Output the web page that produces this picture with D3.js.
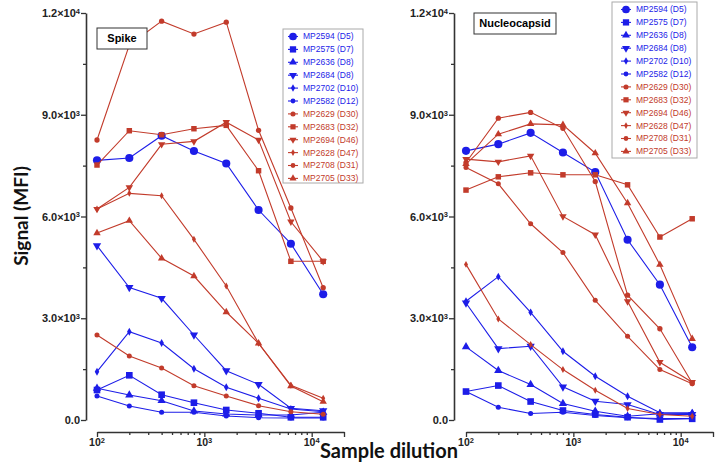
<!DOCTYPE html>
<html><head><meta charset="utf-8">
<script src="https://cdn.jsdelivr.net/npm/d3@7"></script>
<style>body{margin:0;background:#fff}</style>
</head><body><svg id="c" width="716" height="466"></svg>
<script>
const dilutions = [100, 200, 400, 800, 1600, 3200, 6400, 12800];
const seriesNames = ["MP2594 (D5)", "MP2575 (D7)", "MP2636 (D8)", "MP2684 (D8)", "MP2702 (D10)", "MP2582 (D12)",
  "MP2629 (D30)", "MP2683 (D32)", "MP2694 (D46)", "MP2628 (D47)", "MP2708 (D31)", "MP2705 (D33)"];
const spikeValues = [
  [7656, 7724, 8381, 7930, 7562, 6191, 5198, 3706],
  [884, 1318, 746, 510, 295, 198, 80, 80],
  [935, 737, 569, 265, 177, 147, 147, 227],
  [5139, 3906, 3588, 2506, 1453, 1052, 345, 274],
  [1424, 2603, 2270, 1512, 964, 640, 324, 245],
  [708, 413, 227, 227, 118, 68, 59, 59],
  [8255, 11055, 11760, 11380, 11730, 8541, 6250, 3900],
  [7518, 8529, 8411, 8588, 8688, 7350, 4679, 4679],
  [6220, 6860, 8128, 8216, 8779, 8255, 5846, 4679],
  [6220, 6683, 6613, 5327, 3950, 2261, 1023, 640],
  [2506, 1887, 1533, 1011, 708, 422, 245, 168],
  [5513, 5876, 4767, 4245, 3184, 2261, 1002, 540]
];
const nucleocapsidValues = [
  [7936, 8133, 8466, 7886, 7309, 5315, 3990, 2144],
  [839, 1016, 545, 280, 162, 82, 15, 35],
  [2156, 1458, 1045, 486, 259, 112, 183, 191],
  [3450, 2105, 2174, 978, 554, 456, 162, 162],
  [3500, 4226, 3174, 2026, 1290, 701, 212, 212],
  [839, 377, 191, 230, 133, 65, 44, 44],
  [7591, 8900, 9070, 8600, 7030, 3680, 2690, 1090],
  [6779, 7170, 7288, 7229, 7229, 6934, 5395, 5933],
  [7691, 7612, 7788, 6001, 5462, 3498, 1702, 1113],
  [4588, 2980, 2223, 1487, 875, 339, 162, 112],
  [7444, 6964, 5786, 4938, 3528, 2467, 1487, 1066],
  [7553, 8427, 8731, 8701, 7866, 6393, 4579, 2391]
];
const yTickValues = [0, 3000, 6000, 9000, 12000];
const yMinorTicks = [1500, 4500, 7500, 10500];
const yTickLabels = [["0.0", ""], ["3.0×10", "3"], ["6.0×10", "3"], ["9.0×10", "3"], ["1.2×10", "4"]];
const xTickValues = [100, 1000, 10000];
const xTickLabels = [["10", "2"], ["10", "3"], ["10", "4"]];
const panelTitles = ["Spike", "Nucleocapsid"];
const yAxisTitle = "Signal (MFI)";
const xAxisTitle = "Sample dilution";

// ---- styling / layout (kept out of data) ----
const BLUE = "#1d1de8", RED = "#c23b2b";
const triDown = { draw(ctx, size) { const s = Math.sqrt(size / 0.433) ; const h = s * 0.866;
  ctx.moveTo(-s/2, -h/3); ctx.lineTo(s/2, -h/3); ctx.lineTo(0, 2*h/3); ctx.closePath(); } };
const triUp = { draw(ctx, size) { const s = Math.sqrt(size / 0.433) ; const h = s * 0.866;
  ctx.moveTo(-s/2, h/3); ctx.lineTo(s/2, h/3); ctx.lineTo(0, -2*h/3); ctx.closePath(); } };
const styleOf = i => {
  const blue = i < 6;
  const types = [d3.symbolCircle, d3.symbolSquare, triUp, triDown, d3.symbolDiamond, d3.symbolCircle,
                 d3.symbolCircle, d3.symbolSquare, triDown, d3.symbolDiamond, d3.symbolCircle, triUp];
  const sizes = [52, 44, 30, 30, 18, 20, 22, 30, 24, 14, 20, 24];
  return { color: blue ? BLUE : RED, type: types[i], size: sizes[i] };
};

const svg = d3.select("#c");
svg.append("rect").attr("width", 716).attr("height", 466).attr("fill", "#fff");

const panels = [
  { yAxisX: 86, xRange: [97, 344], yRange: [420, 13], xAxisY: 432,
    title: { x: 97, y: 28, w: 50, h: 21 },
    legend: { x: 283, y: 29, w: 80, h: 154, lx: 288, tx: 303 } },
  { yAxisX: 454, xRange: [466, 713], yRange: [420, 13], xAxisY: 432,
    title: { x: 474, y: 13, w: 82, h: 21 },
    legend: { x: 612, y: 2, w: 85, h: 156, lx: 621, tx: 636 } }
];
const panelValues = [spikeValues, nucleocapsidValues];

const AX = "#333";
panels.forEach((p, pi) => {
  const x = d3.scaleLog().domain([100, 20000]).range(p.xRange);
  const y = d3.scaleLinear().domain([0, 12000]).range(p.yRange);

  // y axis
  svg.append("g").attr("transform", `translate(${p.yAxisX},0)`)
    .call(d3.axisLeft(y).tickValues(yTickValues).tickSize(5).tickSizeOuter(0).tickFormat(""));
  svg.append("g").attr("transform", `translate(${p.yAxisX},0)`)
    .call(d3.axisLeft(y).tickValues(yMinorTicks).tickSize(3).tickSizeOuter(0).tickFormat(""))
    .select(".domain").remove();
  // x axis
  svg.append("g").attr("transform", `translate(0,${p.xAxisY})`)
    .call(d3.axisBottom(x).tickValues(xTickValues.concat([20000])).tickSize(5).tickSizeOuter(0).tickFormat(""));
  const minorX = [];
  [100, 1000, 10000].forEach(b => { for (let k = 2; k <= 9; k++) if (b * k < 20000) minorX.push(b * k); });
  svg.append("g").attr("transform", `translate(0,${p.xAxisY})`)
    .call(d3.axisBottom(x).tickValues(minorX).tickSize(3).tickSizeOuter(0).tickFormat(""))
    .select(".domain").remove();
  svg.selectAll(".domain").attr("stroke", AX).attr("stroke-width", 1.6);
  svg.selectAll(".tick line").attr("stroke", AX).attr("stroke-width", 1.3);

  // y tick labels
  yTickValues.forEach((v, i) => {
    const t = svg.append("text").attr("x", p.yAxisX - 6).attr("y", y(v)).attr("dy", "0.38em")
      .attr("text-anchor", "end").attr("font-family", "Liberation Sans, Arial, sans-serif")
      .attr("font-weight", "bold").attr("font-size", 11).attr("fill", "#222");
    t.append("tspan").text(yTickLabels[i][0]);
    if (yTickLabels[i][1]) t.append("tspan").attr("dy", "-0.45em").attr("font-size", 7.5).text(yTickLabels[i][1]);
  });
  // x tick labels
  xTickValues.forEach((v, i) => {
    const t = svg.append("text").attr("x", x(v)).attr("y", p.xAxisY + 14)
      .attr("text-anchor", "middle").attr("font-family", "Liberation Sans, Arial, sans-serif")
      .attr("font-weight", "bold").attr("font-size", 10.5).attr("fill", "#222");
    t.append("tspan").text(xTickLabels[i][0]);
    t.append("tspan").attr("dy", "-0.45em").attr("font-size", 7.5).text(xTickLabels[i][1]);
  });

  // series
  const line = d3.line().x((d, i) => x(dilutions[i])).y(d => y(d));
  panelValues[pi].forEach((vals, si) => {
    const st = styleOf(si);
    svg.append("path").attr("d", line(vals)).attr("fill", "none").attr("stroke", st.color).attr("stroke-width", 1.1);
    svg.append("g").selectAll("path").data(vals).join("path")
      .attr("transform", (d, i) => `translate(${x(dilutions[i])},${y(d)})`)
      .attr("d", d3.symbol().type(st.type).size(st.size)).attr("fill", st.color);
  });

  // title box
  const tb = p.title;
  svg.append("rect").attr("x", tb.x).attr("y", tb.y).attr("width", tb.w).attr("height", tb.h)
    .attr("fill", "#fff").attr("stroke", "#333").attr("stroke-width", 1);
  svg.append("text").attr("x", tb.x + tb.w / 2).attr("y", tb.y + tb.h / 2).attr("dy", "0.36em")
    .attr("text-anchor", "middle").attr("font-family", "Liberation Sans, Arial, sans-serif")
    .attr("font-weight", "bold").attr("font-size", 11).text(panelTitles[pi]);

  // legend
  const lg = p.legend;
  svg.append("rect").attr("x", lg.x).attr("y", lg.y).attr("width", lg.w).attr("height", lg.h)
    .attr("fill", "#fff").attr("stroke", "#aaa").attr("stroke-width", 1);
  seriesNames.forEach((nm, si) => {
    const st = styleOf(si);
    const ry = lg.y + 7.5 + si * 12.9;
    svg.append("line").attr("x1", lg.lx).attr("x2", lg.lx + 10).attr("y1", ry).attr("y2", ry)
      .attr("stroke", st.color).attr("stroke-width", 1.1);
    svg.append("path").attr("transform", `translate(${lg.lx + 5},${ry})`)
      .attr("d", d3.symbol().type(st.type).size(st.size * 0.9)).attr("fill", st.color);
    svg.append("text").attr("x", lg.tx).attr("y", ry).attr("dy", "0.35em")
      .attr("font-family", "Liberation Sans, Arial, sans-serif").attr("font-size", 8.5)
      .attr("fill", st.color).text(nm);
  });
});

// axis titles
svg.append("text").attr("transform", "translate(28,216) rotate(-90)").attr("text-anchor", "middle")
  .attr("font-family", "Lato, Open Sans, sans-serif").attr("font-weight", "bold").attr("font-size", 19)
  .attr("fill", "#111").text(yAxisTitle);
svg.append("text").attr("x", 389).attr("y", 458).attr("text-anchor", "middle")
  .attr("font-family", "Lato, Open Sans, sans-serif").attr("font-weight", "bold").attr("font-size", 20)
  .attr("fill", "#111").text(xAxisTitle);
</script></body></html>
